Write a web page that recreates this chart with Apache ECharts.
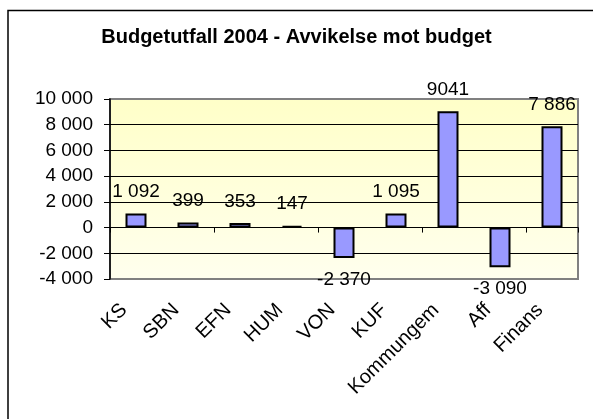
<!DOCTYPE html>
<html>
<head>
<meta charset="utf-8">
<script src="https://cdn.jsdelivr.net/npm/echarts@6/dist/echarts.min.js"></script>
<style>
  html, body { margin: 0; padding: 0; background: #fff; }
  #chart { width: 593px; height: 419px; }
</style>
</head>
<body>
<div id="chart"></div>
<script>
// avdelningar och avvikelse mot budget
var categories = ["KS", "SBN", "EFN", "HUM", "VON", "KUF", "Kommungem", "Aff", "Finans"];
var deviations = [1092, 399, 353, 147, -2370, 1095, 9041, -3090, 7886];
var valueLabels = ["1 092", "399", "353", "147", "-2 370", "1 095", "9041", "-3 090", "7 886"];

var fontFamily = "'Liberation Sans', Arial, sans-serif";

var chart = echarts.init(document.getElementById("chart"));

// positiva staplar får etikett ovanför, negativa under
var barData = deviations.map(function (v, i) {
  return {
    value: v,
    label: { position: v < 0 ? "bottom" : "top", formatter: valueLabels[i] }
  };
});

chart.setOption({
  animation: false,
  textStyle: { fontFamily: fontFamily },
  title: {
    text: "Budgetutfall 2004 - Avvikelse mot budget",
    left: "center",
    top: 27,
    padding: 0,
    textStyle: { fontSize: 20, fontWeight: "bold", color: "#000", fontFamily: fontFamily }
  },
  graphic: [
    {
      type: "rect",
      shape: { x: 8, y: 10.5, width: 620, height: 440 },
      style: { fill: null, stroke: "#000", lineWidth: 1.5 },
      silent: true
    }
  ],
  grid: [
    {
      left: 110,
      top: 99,
      width: 468,
      height: 180,
      show: true,
      borderColor: "#808080",
      borderWidth: 2,
      backgroundColor: new echarts.graphic.LinearGradient(0, 0, 0, 1, [
        { offset: 0, color: "#FFFFC8" },
        { offset: 1, color: "#FFFFEE" }
      ])
    },
    // kategorietiketterna sitter lite till vänster om staplarna, som i Excel
    { left: 98, top: 99, width: 468, height: 180, show: false }
  ],
  xAxis: [
    {
      type: "category",
      gridIndex: 0,
      data: categories,
      axisLine: { onZero: true, lineStyle: { color: "#000", width: 1 } },
      axisTick: { show: true, length: 5, lineStyle: { color: "#000" } },
      axisLabel: { show: false },
      splitLine: { show: false }
    },
    {
      type: "category",
      gridIndex: 1,
      data: categories,
      position: "bottom",
      axisLine: { show: false, onZero: false },
      axisTick: { show: false },
      axisLabel: {
        interval: 0,
        rotate: 45,
        margin: 28,
        fontSize: 20,
        color: "#000",
        fontFamily: fontFamily
      },
      splitLine: { show: false }
    }
  ],
  yAxis: [
    {
      type: "value",
      gridIndex: 0,
      min: -4000,
      max: 10000,
      interval: 2000,
      axisLine: { show: true, lineStyle: { color: "#000", width: 1.5 } },
      axisTick: { show: true, length: 6, lineStyle: { color: "#000" } },
      axisLabel: {
        margin: 17,
        fontSize: 19,
        color: "#000",
        fontFamily: fontFamily,
        formatter: function (v) {
          var s = String(Math.abs(v)).replace(/\B(?=(\d{3})+(?!\d))/g, " ");
          return (v < 0 ? "-" : "") + s;
        }
      },
      splitLine: {
        show: true,
        lineStyle: {
          color: ["#808080", "#000", "#000", "#000", "#000", "#000", "#000", "#808080"],
          width: 1
        }
      }
    },
    {
      type: "value",
      gridIndex: 1,
      min: -4000,
      max: 10000,
      show: false
    }
  ],
  series: [
    {
      type: "bar",
      xAxisIndex: 0,
      yAxisIndex: 0,
      data: barData,
      barWidth: 21,
      itemStyle: { color: "#9999FF", borderColor: "#000", borderWidth: 2 },
      label: {
        show: true,
        distance: 12,
        fontSize: 19,
        color: "#000",
        fontFamily: fontFamily
      }
    }
  ]
});
</script>
</body>
</html>
